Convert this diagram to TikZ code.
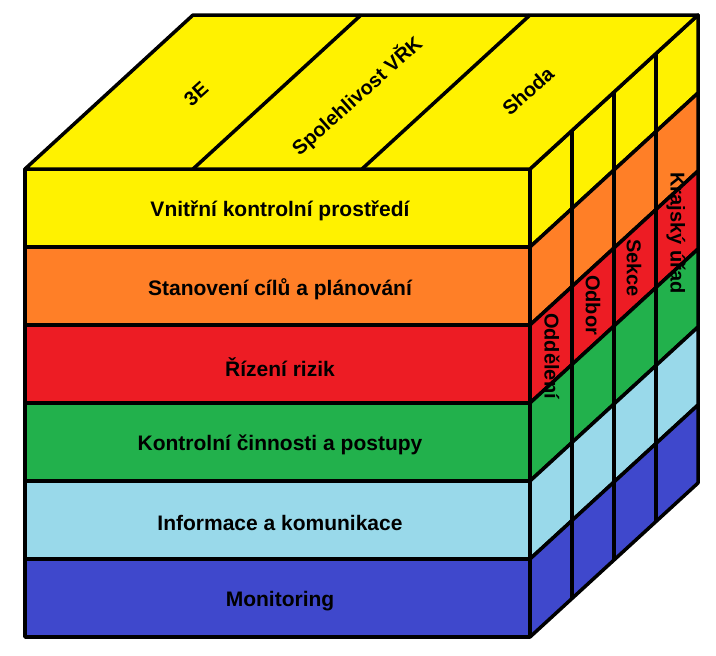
\documentclass[tikz,border=0pt]{standalone}
\usepackage{fontspec}
\setmainfont{Liberation Sans}
\definecolor{cyel}{HTML}{FFF200}
\definecolor{cora}{HTML}{FF7F27}
\definecolor{cred}{HTML}{ED1C24}
\definecolor{cgrn}{HTML}{22B14C}
\definecolor{clbl}{HTML}{99D9EA}
\definecolor{cblu}{HTML}{3F48CC}
\begin{document}
\begin{tikzpicture}[x=1pt,y=-1pt,
  edge/.style={line width=3.5pt, line join=round, draw=black},
  lbl/.style={font=\fontsize{20}{24}\selectfont\bfseries, inner sep=0pt, text=black},
  flbl/.style={lbl, font=\fontsize{21}{25}\selectfont\bfseries}]
\useasboundingbox (0,0) rectangle (716,656);
% front and right bands
\foreach \c/\t [count=\i from 0] in {cyel/{Vnitřní kontrolní prostředí},
    cora/{Stanovení cílů a plánování},
    cred/{Řízení rizik},
    cgrn/{Kontrolní činnosti a postupy},
    clbl/{Informace a komunikace},
    cblu/{Monitoring}}{
  \pgfmathsetmacro{\ya}{169+78*\i}
  \filldraw[fill=\c, edge] (25,\ya) rectangle (530,\ya+78);
  \filldraw[fill=\c, edge] (530,\ya) -- ++(168,-154) -- ++(0,78) -- ++(-168,154) -- cycle;
  \node[flbl] (f\i) at (280,\ya+42) {\t};
}
% top face
\filldraw[fill=cyel, edge] (25,169) -- (530,169) -- (698,15) -- (193,15) -- cycle;
\draw[edge] (193,169) -- ++(168,-154);
\draw[edge] (362,169) -- ++(168,-154);
% vertical dividers on right face
\foreach \k in {1,2,3}{
  \draw[edge] (530+42*\k,169-38.5*\k) -- ++(0,468);
}
% top labels
\node[lbl, rotate=42] (t1) at (196,94) {3E};
\node[lbl, rotate=42] (t2) at (357,96) {Spolehlivost VŘK};
\node[lbl, rotate=42] (t3) at (528,91) {Shoda};
% right labels
\node[lbl, rotate=-90] (r1) at (552,356) {Oddělení};
\node[lbl, rotate=-90] (r2) at (593,305) {Odbor};
\node[lbl, rotate=-90] (r3) at (634,268) {Sekce};
\node[lbl, rotate=-90] (r4) at (676,233) {Krajský úřad};
\end{tikzpicture}
\end{document}
